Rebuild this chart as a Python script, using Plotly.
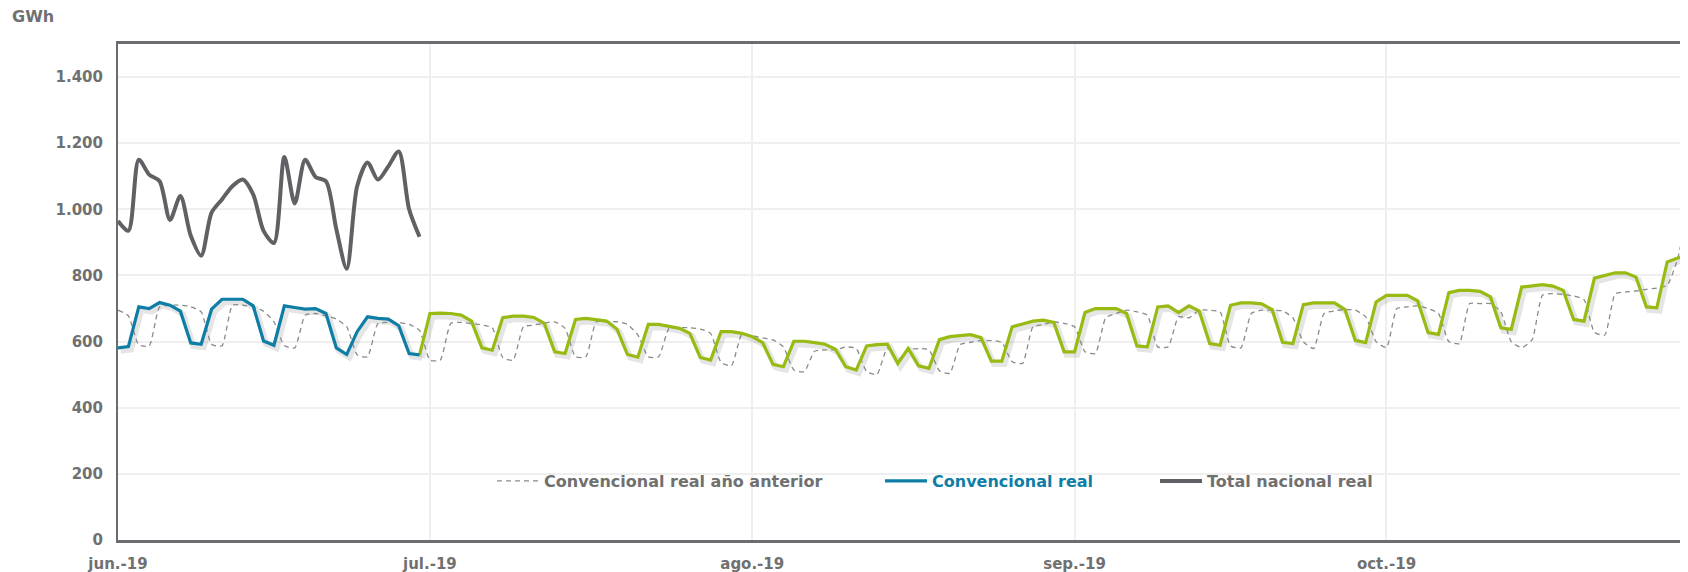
import pandas as pd
import plotly.graph_objects as go

# ---- data ----
start_date = "2019-06-01"
n_days = 152
dates = pd.date_range(start_date, periods=n_days, freq="D")

# Convencional real año anterior (dashed), one value per day from 1 Jun
prev_year = [
    695, 678, 590, 587, 705, 710, 710, 705, 690, 592,
    587, 710, 710, 705, 692, 660, 588, 581, 680, 685,
    678, 668, 645, 560, 554, 655, 658, 657, 652, 634,
    544, 544, 655, 658, 655, 650, 642, 552, 544, 645,
    650, 656, 660, 640, 554, 554, 660, 660, 660, 652,
    620, 554, 554, 640, 642, 642, 638, 625, 537, 527,
    622, 618, 611, 605, 584, 514, 509, 571, 575, 575,
    584, 579, 509, 501, 581, 545, 575, 579, 575, 512,
    504, 591, 598, 604, 603, 598, 539, 534, 645, 652,
    660, 655, 645, 569, 564, 672, 685, 695, 690, 680,
    584, 584, 675, 672, 695, 695, 690, 587, 581, 685,
    695, 695, 693, 672, 600, 579, 685, 693, 697, 695,
    675, 600, 582, 700, 705, 708, 700, 685, 600, 594,
    715, 715, 715, 690, 600, 582, 605, 740, 745, 742,
    738, 727, 628, 620, 745, 750, 753, 758, 762, 770,
    850, 1000,
]

# Convencional real (blue), 1 Jun - 30 Jun
conv_real = [
    581, 585, 705, 700, 718, 710, 692, 596, 592, 698,
    728, 728, 728, 708, 602, 589, 708, 703, 698, 700,
    685, 581, 561, 630, 675, 670, 668, 648, 564, 560,
]

# Convencional previsto (green), 30 Jun - 30 Oct
conv_prev = [
    560, 685, 686, 685, 680, 662, 581, 574, 672, 677,
    677, 673, 655, 569, 564, 667, 670, 667, 662, 637,
    561, 553, 652, 652, 647, 640, 625, 552, 544, 630,
    630, 625, 615, 597, 531, 524, 601, 601, 597, 592,
    577, 524, 514, 587, 591, 592, 534, 579, 527, 519,
    606, 615, 618, 621, 612, 541, 541, 645, 653, 662,
    665, 658, 569, 569, 688, 700, 700, 700, 685, 587,
    584, 705, 708, 688, 708, 692, 594, 589, 710, 717,
    717, 714, 697, 598, 594, 712, 717, 717, 717, 697,
    604, 597, 720, 740, 740, 740, 723, 627, 622, 748,
    755, 755, 752, 735, 642, 637, 765, 768, 772, 768,
    755, 667, 662, 792, 800, 808, 808, 795, 705, 702,
    841, 853, 857,
]

# Total nacional real (dark gray), 1 Jun - 30 Jun
total_real = [
    965, 935, 1150, 1105, 1085, 968, 1040, 920, 860, 990,
    1030, 1070, 1090, 1045, 935, 898, 1158, 1018, 1150, 1098,
    1085, 940, 820, 1070, 1142, 1090, 1130, 1175, 1000, 917,
]

y_ticks = [0, 200, 400, 600, 800, 1000, 1200, 1400]
y_tick_labels = ["0", "200", "400", "600", "800", "1.000", "1.200", "1.400"]
x_ticks = ["2019-06-01", "2019-07-01", "2019-08-01", "2019-09-01", "2019-10-01"]
x_tick_labels = ["jun.-19", "jul.-19", "ago.-19", "sep.-19", "oct.-19"]

# ---- styles ----
C_PREV = "#8a8a8a"
C_BLUE = "#0e7ea6"
C_GREEN = "#97bb12"
C_TOTAL = "#5f6165"
C_AXIS = "#6b6c70"
C_TEXT = "#707070"
FONT = "DejaVu Sans"

x_prev = dates
x_blue = dates[: len(conv_real)]
x_green = dates[len(conv_real) - 1: len(conv_real) - 1 + len(conv_prev)]
x_total = dates[: len(total_real)]

shadow_dt = pd.Timedelta(hours=6)
shadow_dy = 9

fig = go.Figure()

# drop shadows for the conventional lines
fig.add_trace(go.Scatter(
    x=x_green + shadow_dt, y=[v - shadow_dy for v in conv_prev], mode="lines",
    line=dict(color="rgba(0,0,0,0.10)", width=6), showlegend=False, hoverinfo="skip"))
fig.add_trace(go.Scatter(
    x=x_blue + shadow_dt, y=[v - shadow_dy for v in conv_real], mode="lines",
    line=dict(color="rgba(0,0,0,0.10)", width=6), showlegend=False, hoverinfo="skip"))

fig.add_trace(go.Scatter(
    x=x_prev, y=prev_year, mode="lines",
    name="Convencional real año anterior",
    line=dict(color=C_PREV, width=1.3, dash="5px,4px", shape="spline", smoothing=0.5),
    legend="legend"))
fig.add_trace(go.Scatter(
    x=x_green, y=conv_prev, mode="lines", name="Convencional previsto",
    line=dict(color=C_GREEN, width=3.2), showlegend=False))
fig.add_trace(go.Scatter(
    x=x_blue, y=conv_real, mode="lines",
    name=f"<span style='color:{C_BLUE}'>Convencional real</span>",
    line=dict(color=C_BLUE, width=3.2), legend="legend2"))
fig.add_trace(go.Scatter(
    x=x_total, y=total_real, mode="lines", name="Total nacional real",
    line=dict(color=C_TOTAL, width=4, shape="spline", smoothing=0.8),
    legend="legend3"))

# the page body adds an 8px margin; positions below are given in page pixels
OFF = 8
W, H = 1688 - OFF, 572 - OFF
L, R, T = 118 - OFF, 0, 44 - OFF
B = H - (540 - OFF)
pw, ph = W - L - R, H - T - B


def px_x(x):
    return (x - OFF - L) / pw


def px_y(y):
    return (H - B - (y - OFF)) / ph


leg_font = dict(family=FONT, size=16, color=C_TEXT, weight="bold")
leg_common = dict(orientation="h", yanchor="middle", xanchor="left",
                  bgcolor="rgba(0,0,0,0)", font=leg_font, itemwidth=42)

fig.update_layout(
    width=W, height=H,
    margin=dict(l=L, r=R, t=T, b=B),
    paper_bgcolor="white", plot_bgcolor="white",
    hovermode=False,
    legend=dict(x=px_x(492), y=px_y(481), **leg_common),
    legend2=dict(x=px_x(880), y=px_y(481), **leg_common),
    legend3=dict(x=px_x(1155), y=px_y(481), **leg_common),
    xaxis=dict(
        type="date", range=["2019-06-01", "2019-10-30"],
        tickvals=x_ticks, ticktext=x_tick_labels,
        showgrid=True, gridcolor="#efefef", gridwidth=1.5,
        showline=True, linecolor=C_AXIS, linewidth=3, mirror=True,
        ticks="", ticklabelstandoff=8,
        tickfont=dict(family=FONT, size=15, color=C_TEXT, weight="bold"),
        zeroline=False,
    ),
    yaxis=dict(
        range=[0, 1500],
        tickvals=y_ticks, ticktext=y_tick_labels,
        showgrid=True, gridcolor="#efefef", gridwidth=1.5,
        showline=True, linecolor=C_AXIS, linewidth=2,
        ticks="", ticklabelstandoff=10,
        tickfont=dict(family=FONT, size=15, color=C_TEXT, weight="bold"),
        zeroline=False,
    ),
    annotations=[dict(
        text="GWh", xref="paper", yref="paper", x=px_x(10), y=px_y(17),
        xanchor="left", yanchor="middle", showarrow=False,
        font=dict(family=FONT, size=16, color=C_TEXT, weight="bold"))],
)

fig.write_html("out.html")
